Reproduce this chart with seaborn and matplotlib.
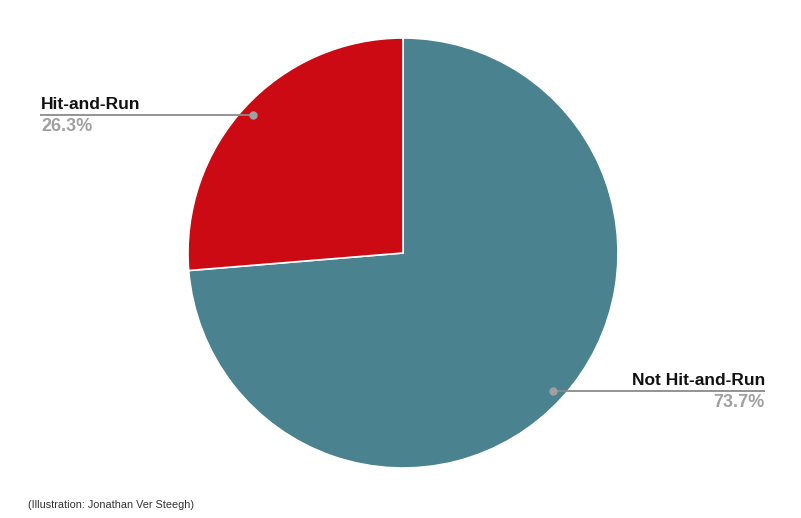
import numpy as np
import matplotlib
matplotlib.use("Agg")
import matplotlib.pyplot as plt
import seaborn as sns

categories = ["Not Hit-and-Run", "Hit-and-Run"]
shares = [73.7, 26.3]
pct_labels = ["73.7%", "26.3%"]
colors = ["#4A828F", "#CC0A14"]

sns.set_style("white")
plt.rcParams['font.family'] = ['Liberation Sans', 'DejaVu Sans']

W, H = 801, 518
fig = plt.figure(figsize=(W / 100, H / 100), dpi=100)
ax = fig.add_axes([0, 0, 1, 1])
ax.set_xlim(0, W)
ax.set_ylim(0, H)
ax.set_aspect('equal')
ax.axis('off')

cx, cy, R = 403, H - 253, 215
wedges, _ = ax.pie(shares, colors=colors, startangle=90, counterclock=False,
                   center=(cx, cy), radius=R,
                   wedgeprops=dict(edgecolor='white', linewidth=1.2))
ax.set_xlim(0, W)
ax.set_ylim(0, H)

layout = {
    "Hit-and-Run": dict(x_outer=40, ha='left'),
    "Not Hit-and-Run": dict(x_outer=765, ha='right'),
}
for w, cat, pct in zip(wedges, categories, pct_labels):
    mid = np.deg2rad((w.theta1 + w.theta2) / 2)
    px = cx + 0.95 * R * np.cos(mid)
    py = cy + 0.95 * R * np.sin(mid)
    lay = layout[cat]
    ax.plot([lay['x_outer'], px], [py, py], color='#8a8a8a', lw=1.3,
            solid_capstyle='butt', zorder=3)
    ax.plot([px], [py], 'o', color='#a0a0a0', ms=5, zorder=4)
    tx = lay['x_outer'] + (1 if lay['ha'] == 'left' else 0)
    ax.text(tx, py + 3, cat, ha=lay['ha'], va='bottom', fontsize=12.5,
            fontweight='bold', color='#111111')
    ax.text(tx, py - 3, pct, ha=lay['ha'], va='top', fontsize=13,
            fontweight='bold', color='#a0a0a0')

fig.text(28 / W, 1 - 505 / H, "(Illustration: Jonathan Ver Steegh)",
         ha='left', va='center', fontsize=7.8, color='#333333')

fig.savefig("out.png", dpi=100, facecolor='white')
